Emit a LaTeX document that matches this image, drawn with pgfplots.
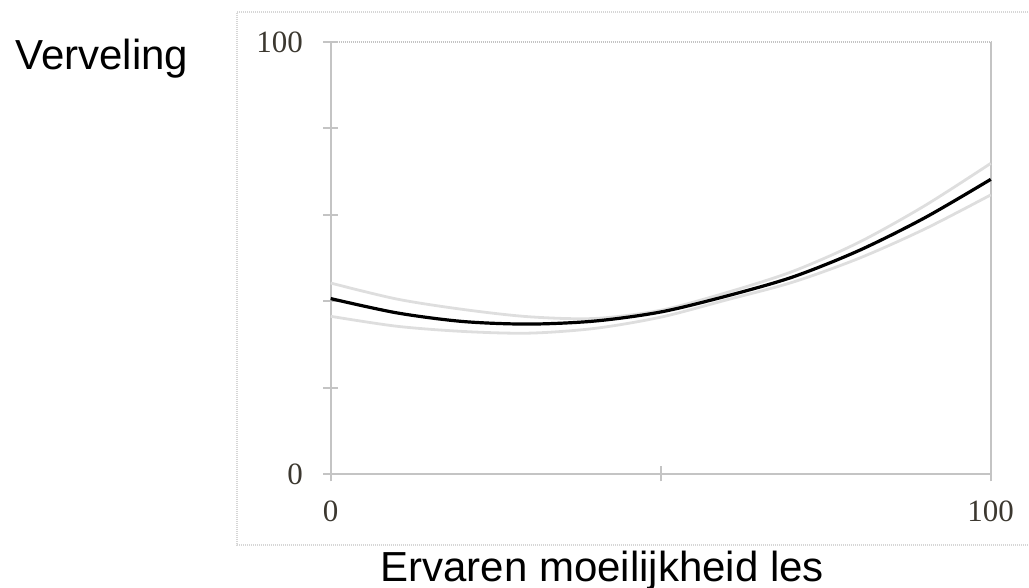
\documentclass[border=0pt]{standalone}
\usepackage{fontspec}
\setmainfont{Liberation Serif}
\newfontfamily\arial{Liberation Sans}
\usepackage{pgfplots}
\usepackage{pgfplotstable}
\pgfplotsset{compat=1.18}

\definecolor{axisgray}{HTML}{C4C4C4}
\definecolor{boxgray}{HTML}{D6D6D6}
\definecolor{bandgray}{HTML}{DEDEDE}
\definecolor{ticktext}{HTML}{3C3830}

% fitted curve (mid) and the two grey band lines
\pgfplotstableread{
x    mid   lo    hi
0    40.6  36.5  44.2
10   37.3  34.2  40.5
20   35.3  33.0  38.1
30   34.7  32.6  36.4
40   35.4  33.7  36.0
50   37.5  36.3  37.9
60   41.2  40.3  42.0
70   45.6  44.4  46.9
80   51.7  49.9  53.6
90   59.3  56.7  62.1
100  68.2  64.6  71.9
}\curve

\begin{document}
\begin{tikzpicture}[x=0.5bp,y=0.5bp]
  \path[use as bounding box] (0,0) rectangle (1029,588);
  % outer frame (cut off on the right)
  \draw[boxgray, line width=1bp, dash pattern=on 0.5bp off 0.5bp]
    (1040,576) -- (237,576) -- (237,43) -- (1040,43);

  \begin{axis}[
      at={(165.35bp,57bp)}, anchor=south west,
      scale only axis, width=330bp, height=216bp,
      xmin=0, xmax=100, ymin=0, ymax=100,
      axis x line*=bottom, axis y line*=left,
      axis line style={axisgray, line width=1.2bp, -},
      xtick={0,50,100}, xticklabels={0,,100},
      ytick={0,20,40,60,80,100}, yticklabels={0,,,,,100},
      tick align=center, major tick length=7.5bp,
      tick style={axisgray, line width=1bp},
      ticklabel style={font=\fontsize{15.5bp}{17bp}\selectfont, text=ticktext, inner sep=0pt},
      yticklabel style={anchor=east, xshift=-10bp},
      xticklabel style={anchor=north, yshift=-9.5bp},
      /pgf/number format/assume math mode=true,
      clip=false,
    ]
    \draw[axisgray, line width=1bp, dash pattern=on 0.5bp off 0.5bp]
      (rel axis cs:0,1) -- (rel axis cs:1,1);
    \draw[axisgray, line width=1.2bp] (rel axis cs:1,0) -- (rel axis cs:1,1);
    \addplot[bandgray, line width=1.4bp, smooth] table[x=x, y=hi] {\curve};
    \addplot[bandgray, line width=1.4bp, smooth] table[x=x, y=lo] {\curve};
    \addplot[black, line width=1.6bp, smooth] table[x=x, y=mid] {\curve};
  \end{axis}

  \node[anchor=base west, inner sep=0pt, font=\arial\fontsize{21bp}{25bp}\selectfont]
    at (15,518) {Verveling};
  \node[anchor=base west, inner sep=0pt, font=\arial\fontsize{21bp}{25bp}\selectfont]
    at (380,6) {Ervaren moeilijkheid les};
\end{tikzpicture}
\end{document}
